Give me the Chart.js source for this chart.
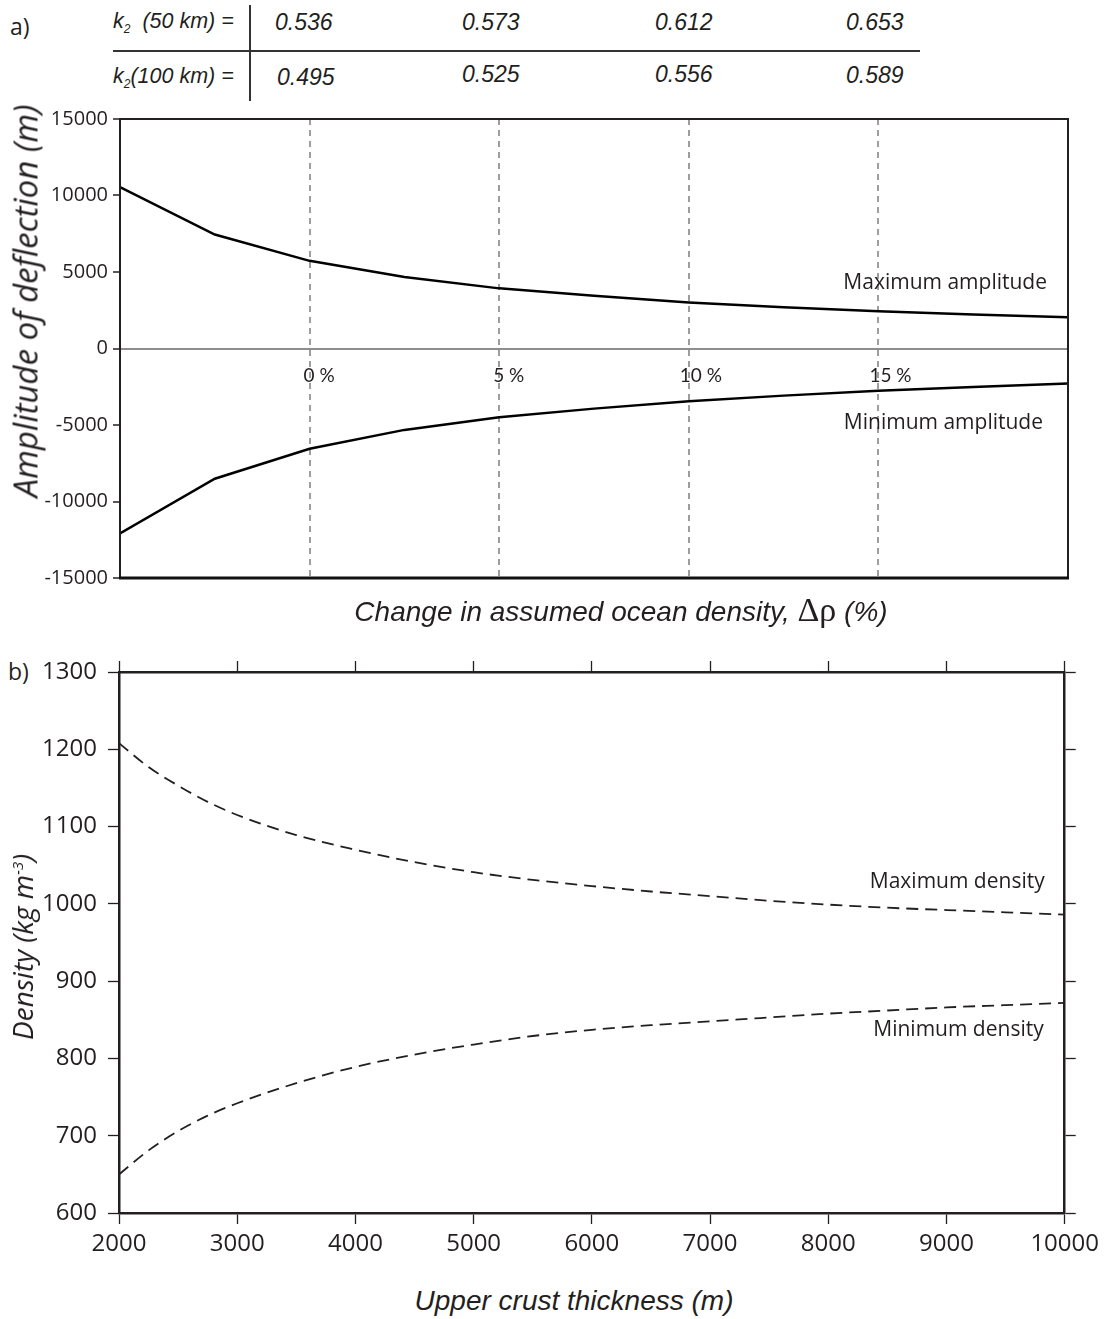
<!DOCTYPE html>
<html>
<head>
<meta charset="utf-8">
<script src="https://cdn.jsdelivr.net/npm/chart.js"></script>
<style>
  body { margin:0; background:#fff; }
  #page { position:relative; width:1105px; height:1319px; overflow:hidden; background:#fff; color:#231f20; font-family:'Open Sans', sans-serif; }
  .abs { position:absolute; white-space:nowrap; line-height:1; }
  .k2lab { font-family:'Liberation Sans', Arial, sans-serif; font-style:italic; font-size:21.5px; }
  .k2num { font-family:'Liberation Sans', Arial, sans-serif; font-style:italic; font-size:23px; }
  .k2lab sub { font-size:12px; vertical-align:-5px; }
  .rot { transform: translate(-50%,-50%) rotate(-90deg); }
  .ctr { transform: translate(-50%,-50%); }
  canvas { position:absolute; left:0; }
</style>
</head>
<body>
<div id="page">
  <div class="abs" style="left:10px;top:15px;font-size:23px;">a)</div>
  <div class="abs" style="left:8px;top:660px;font-size:23px;">b)</div>

  <div class="abs k2lab" style="left:113px;top:11px;">k<sub>2</sub>&nbsp;&nbsp;(50 km) =</div>
  <div class="abs k2lab" style="left:113px;top:66px;">k<sub>2</sub>(100 km) =</div>
  <div id="k2row1"></div>
  <div id="k2row2"></div>
  <div class="abs" style="left:113px;top:50px;width:807px;height:2px;background:#333;"></div>
  <div class="abs" style="left:249px;top:5px;width:2px;height:96px;background:#333;"></div>

  <canvas id="chartA" width="1105" height="500" style="top:100px;"></canvas>
  <canvas id="chartB" width="1105" height="640" style="top:640px;"></canvas>

  <div class="abs rot" style="left:25px;top:301px;font-size:33px;font-style:italic;">Amplitude of deflection (m)</div>
  <div class="abs ctr" style="left:621px;top:610px;font-family:'Liberation Sans',Arial,sans-serif;font-style:italic;font-size:28px;">Change in assumed ocean density, <span style="font-family:'Liberation Serif',serif;font-style:normal;font-size:34px;">Δρ</span> (%)</div>
  <div class="abs rot" style="left:22px;top:947px;font-size:28px;font-style:italic;">Density (kg m<sup style="font-size:15px;">-3</sup>)</div>
  <div class="abs ctr" style="left:574px;top:1301px;font-family:'Liberation Sans',Arial,sans-serif;font-style:italic;font-size:28px;">Upper crust thickness (m)</div>
</div>

<script>
// ---------- Data ----------
const k2Labels50 = ['0.536', '0.573', '0.612', '0.653'];
const k2Labels100 = ['0.495', '0.525', '0.556', '0.589'];

const densityChange = [-5, -2.5, 0, 2.5, 5, 7.5, 10, 12.5, 15, 17.5, 20];
const maxAmplitude = [10550, 7450, 5730, 4680, 3930, 3450, 3010, 2700, 2430, 2230, 2040];
const minAmplitude = [-12080, -8510, -6550, -5320, -4490, -3930, -3450, -3080, -2760, -2520, -2290];
const percentMarks = [0, 5, 10, 15];
const percentLabels = ['0 %', '5 %', '10 %', '15 %'];
const amplitudeTicks = [-15000, -10000, -5000, 0, 5000, 10000, 15000];

const crustThickness = [2000, 2250, 2500, 2750, 3000, 3500, 4000, 4500, 5000, 5500, 6000, 6500, 7000, 7500, 8000, 8500, 9000, 9500, 10000];
const maxDensity = [1208, 1177, 1153, 1132, 1115, 1089, 1070, 1054, 1041, 1031, 1023, 1016, 1010, 1004, 999, 995, 992, 989, 986];
const minDensity = [650, 681, 706, 726, 742, 768, 789, 805, 818, 829, 837, 843, 848, 853, 858, 862, 866, 869, 872];
const densityTicks = [600, 700, 800, 900, 1000, 1100, 1200, 1300];
const thicknessTicks = [2000, 3000, 4000, 5000, 6000, 7000, 8000, 9000, 10000];

// ---------- k2 table (HTML text) ----------
const k2Left1 = [275, 462, 655, 846];
const k2Left2 = [277, 462, 655, 846];
const k2Top2 = [66, 63, 63, 64];
k2Labels50.forEach((t, i) => {
  const d = document.createElement('div');
  d.className = 'abs k2num'; d.style.left = k2Left1[i] + 'px'; d.style.top = '11px'; d.textContent = t;
  document.getElementById('k2row1').appendChild(d);
});
k2Labels100.forEach((t, i) => {
  const d = document.createElement('div');
  d.className = 'abs k2num'; d.style.left = k2Left2[i] + 'px'; d.style.top = k2Top2[i] + 'px'; d.textContent = t;
  document.getElementById('k2row2').appendChild(d);
});

const INK = '#231f20';
const pts = (xs, ys) => xs.map((x, i) => ({ x: x, y: ys[i] }));

// ---------- Chart A ----------
const frameA = {
  id: 'frameA',
  afterDraw(chart) {
    const { ctx, chartArea: a } = chart;
    ctx.save();
    ctx.strokeStyle = INK;
    ctx.lineWidth = 2;
    ctx.beginPath();
    ctx.moveTo(a.left, a.bottom); ctx.lineTo(a.left, a.top); ctx.lineTo(a.right, a.top); ctx.lineTo(a.right, a.bottom);
    ctx.stroke();
    ctx.lineWidth = 3;
    ctx.strokeStyle = '#111';
    ctx.beginPath(); ctx.moveTo(a.left - 1, a.bottom); ctx.lineTo(a.right + 1, a.bottom); ctx.stroke();
    ctx.restore();
  }
};
const labelsA = {
  id: 'labelsA',
  afterDraw(chart) {
    const { ctx } = chart;
    const xs = chart.scales.x, ys = chart.scales.y;
    ctx.save();
    ctx.fillStyle = INK;
    ctx.textBaseline = 'middle';
    ctx.textAlign = 'left';
    ctx.font = '19px Lato, "Open Sans", sans-serif';
    percentMarks.forEach((v, i) => {
      ctx.fillText(percentLabels[i], xs.getPixelForValue(v) - (v >= 10 ? 9 : 6), ys.getPixelForValue(0) + 27);
    });
    ctx.font = '21px "Open Sans", sans-serif';
    ctx.textAlign = 'right';
    ctx.fillText('Maximum amplitude', xs.getPixelForValue(20) - 21, ys.getPixelForValue(4258));
    ctx.fillText('Minimum amplitude', xs.getPixelForValue(20) - 25, ys.getPixelForValue(-4850));
    ctx.restore();
  }
};

new Chart(document.getElementById('chartA'), {
  type: 'line',
  data: {
    datasets: [
      { label: 'Maximum amplitude', data: pts(densityChange, maxAmplitude), borderColor: '#000', borderWidth: 2.5, pointRadius: 0, tension: 0, fill: false },
      { label: 'Minimum amplitude', data: pts(densityChange, minAmplitude), borderColor: '#000', borderWidth: 2.5, pointRadius: 0, tension: 0, fill: false }
    ]
  },
  options: {
    responsive: false, animation: false, devicePixelRatio: 1,
    layout: { padding: { left: 0, right: 37, top: 19, bottom: 22 } },
    plugins: { legend: { display: false }, tooltip: { enabled: false } },
    scales: {
      x: {
        type: 'linear', min: -5, max: 20,
        ticks: { display: false, stepSize: 5 },
        grid: {
          color: c => percentMarks.includes(c.tick && c.tick.value) ? '#9d9d9d' : 'rgba(0,0,0,0)',
          lineWidth: 2, drawTicks: false
        },
        border: { display: false, dash: [6, 5] },
        afterFit: s => { s.height = 0; }
      },
      y: {
        type: 'linear', min: -15000, max: 15000,
        afterBuildTicks: s => { s.ticks = amplitudeTicks.map(v => ({ value: v })); },
        ticks: { callback: v => String(v), font: { family: 'Open Sans', size: 20 }, color: INK, padding: 5 },
        grid: {
          color: c => (c.tick && c.tick.value === 0) ? '#8e8e8e' : 'rgba(0,0,0,0)',
          lineWidth: 2, tickColor: INK, tickLength: 7, tickWidth: 1.5
        },
        border: { display: false },
        afterFit: s => { s.width = 120; }
      }
    }
  },
  plugins: [frameA, labelsA]
});

// ---------- Chart B ----------
const labelsB = {
  id: 'labelsB',
  afterDraw(chart) {
    const { ctx } = chart;
    const xs = chart.scales.x, ys = chart.scales.y;
    ctx.save();
    ctx.fillStyle = INK;
    ctx.textBaseline = 'middle';
    ctx.textAlign = 'right';
    ctx.font = '21px "Open Sans", sans-serif';
    ctx.fillText('Maximum density', xs.getPixelForValue(10000) - 20, ys.getPixelForValue(1028));
    ctx.fillText('Minimum density', xs.getPixelForValue(10000) - 21, ys.getPixelForValue(837));
    ctx.restore();
  }
};
const gridB = { drawOnChartArea: false, tickLength: 11, tickColor: INK, tickWidth: 1.3, color: INK };
const borderB = { color: INK, width: 2.5 };

new Chart(document.getElementById('chartB'), {
  type: 'line',
  data: {
    datasets: [
      { label: 'Maximum density', data: pts(crustThickness, maxDensity), borderColor: INK, borderWidth: 1.8, borderDash: [12, 7], pointRadius: 0, cubicInterpolationMode: 'monotone', fill: false },
      { label: 'Minimum density', data: pts(crustThickness, minDensity), borderColor: INK, borderWidth: 1.8, borderDash: [12, 7], pointRadius: 0, cubicInterpolationMode: 'monotone', fill: false }
    ]
  },
  options: {
    responsive: false, animation: false, devicePixelRatio: 1,
    layout: { padding: { left: 0, right: 28, top: 21, bottom: 7 } },
    plugins: { legend: { display: false }, tooltip: { enabled: false } },
    scales: {
      x: {
        type: 'linear', position: 'bottom', min: 2000, max: 10000,
        afterBuildTicks: s => { s.ticks = thicknessTicks.map(v => ({ value: v })); },
        ticks: { callback: v => String(v), font: { family: 'Open Sans', size: 24 }, color: INK, padding: 6, maxRotation: 0, autoSkip: false },
        grid: gridB, border: borderB,
        afterFit: s => { s.height = 60; }
      },
      xTop: {
        type: 'linear', position: 'top', min: 2000, max: 10000,
        afterBuildTicks: s => { s.ticks = thicknessTicks.map(v => ({ value: v })); },
        ticks: { display: false },
        grid: gridB, border: borderB,
        afterFit: s => { s.height = 11; }
      },
      y: {
        type: 'linear', position: 'left', min: 600, max: 1300,
        afterBuildTicks: s => { s.ticks = densityTicks.map(v => ({ value: v })); },
        ticks: { callback: v => String(v), font: { family: 'Open Sans', size: 24 }, color: INK, padding: 11 },
        grid: gridB, border: borderB,
        afterFit: s => { s.width = 119; }
      },
      yRight: {
        type: 'linear', position: 'right', min: 600, max: 1300,
        afterBuildTicks: s => { s.ticks = densityTicks.map(v => ({ value: v })); },
        ticks: { display: false },
        grid: gridB, border: borderB,
        afterFit: s => { s.width = 11; }
      }
    }
  },
  plugins: [labelsB]
});
</script>
</body>
</html>
